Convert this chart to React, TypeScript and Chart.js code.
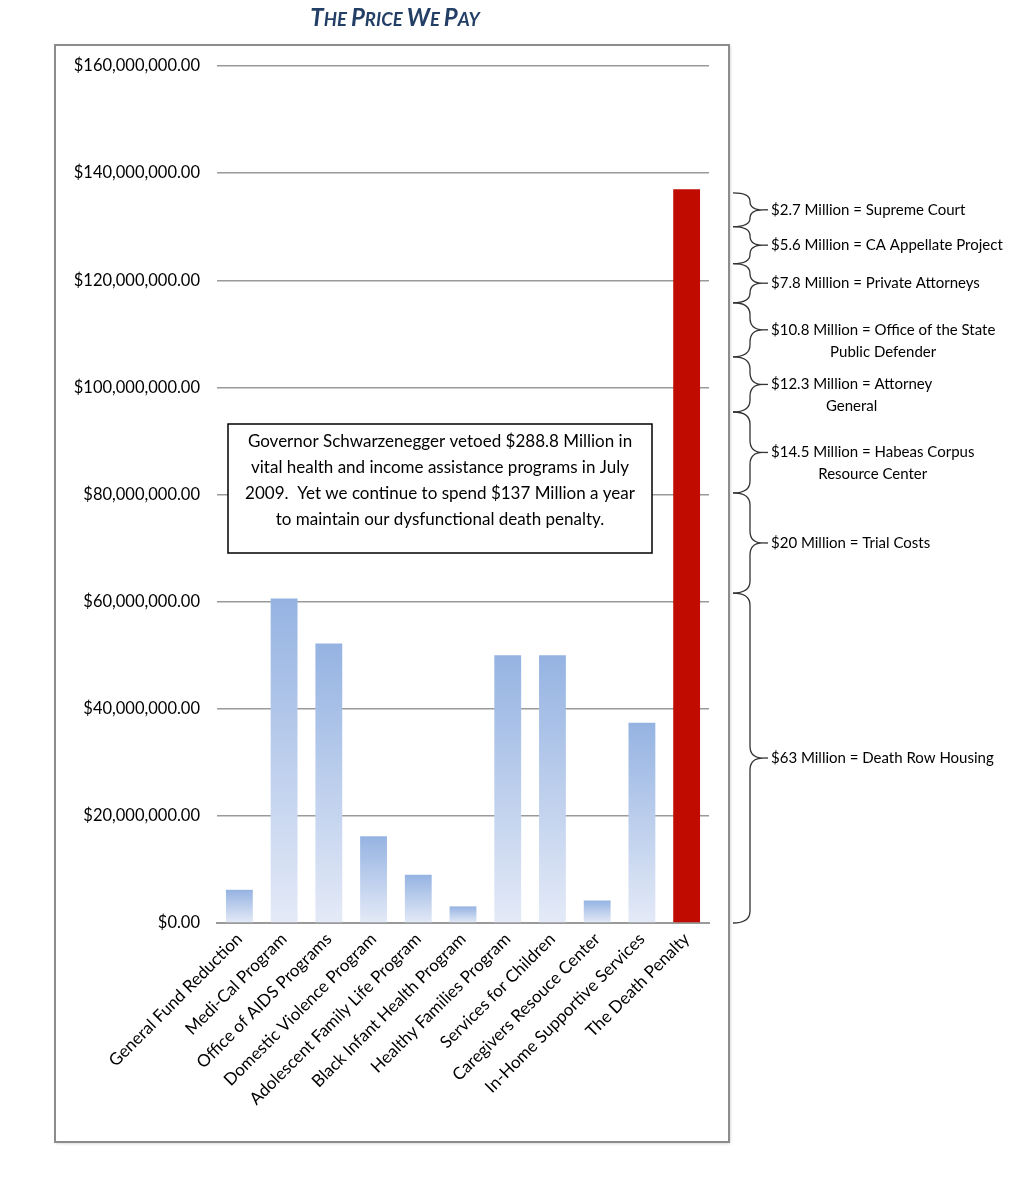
import React, { useEffect, useRef } from "react";
import { Chart, registerables } from "chart.js";

Chart.register(...registerables);

const categories = [
  "General Fund Reduction",
  "Medi-Cal Program",
  "Office of AIDS Programs",
  "Domestic Violence Program",
  "Adolescent Family Life Program",
  "Black Infant Health Program",
  "Healthy Families Program",
  "Services for Children",
  "Caregivers Resouce Center",
  "In-Home Supportive Services",
  "The Death Penalty",
];

const values = [
  6200000, 60600000, 52200000, 16200000, 9000000, 3100000, 50000000, 50000000,
  4200000, 37400000, 137000000,
];

const yMax = 160000000;
const yStep = 20000000;

// brace edges (dollar values along the death-penalty bar)
const braceEdges = [
  0, 61600000, 80300000, 95400000, 105700000, 115800000, 123100000, 130000000,
  136300000,
];

const braceLabels = [
  ["$63 Million = Death Row Housing"],
  ["$20 Million = Trial Costs"],
  ["$14.5 Million = Habeas Corpus", "Resource Center"],
  ["$12.3 Million = Attorney", "General"],
  ["$10.8 Million = Office of the State", "Public Defender"],
  ["$7.8 Million = Private Attorneys"],
  ["$5.6 Million = CA Appellate Project"],
  ["$2.7 Million = Supreme Court"],
];

const noteLines = [
  "Governor Schwarzenegger vetoed $288.8 Million in",
  "vital health and income assistance programs in July",
  "2009.  Yet we continue to spend $137 Million a year",
  "to maintain our dysfunctional death penalty.",
];

const titleWords = ["The", "Price", "We", "Pay"];

const FONT = "Lato, 'Liberation Sans', sans-serif";

function fmtMoney(v: number) {
  return (
    "$" +
    v.toLocaleString("en-US", {
      minimumFractionDigits: 2,
      maximumFractionDigits: 2,
    })
  );
}

function drawBrace(
  ctx: CanvasRenderingContext2D,
  x0: number,
  xs: number,
  xt: number,
  yTop: number,
  yBot: number
) {
  const mid = (yTop + yBot) / 2;
  const r = Math.min(12, (yBot - yTop) / 4);
  ctx.beginPath();
  ctx.moveTo(x0, yTop);
  ctx.quadraticCurveTo(xs, yTop, xs, yTop + r);
  ctx.lineTo(xs, mid - r);
  ctx.quadraticCurveTo(xs, mid, xt, mid);
  ctx.quadraticCurveTo(xs, mid, xs, mid + r);
  ctx.lineTo(xs, yBot - r);
  ctx.quadraticCurveTo(xs, yBot, x0, yBot);
  ctx.stroke();
}

const decorPlugin = {
  id: "decor",
  beforeDraw(chart: any) {
    const ctx: CanvasRenderingContext2D = chart.ctx;
    ctx.save();
    ctx.fillStyle = "#ffffff";
    ctx.fillRect(0, 0, chart.width, chart.height);
    ctx.shadowColor = "rgba(0,0,0,0.25)";
    ctx.shadowBlur = 3;
    ctx.shadowOffsetX = 1;
    ctx.shadowOffsetY = 1;
    ctx.fillRect(55, 45, 674, 1097);
    ctx.shadowColor = "transparent";
    ctx.strokeStyle = "#8c8c8c";
    ctx.lineWidth = 2;
    ctx.strokeRect(55, 45, 674, 1097);
    ctx.restore();
  },
  afterDraw(chart: any) {
    const ctx: CanvasRenderingContext2D = chart.ctx;
    const area = chart.chartArea;
    const y = chart.scales.y;
    ctx.save();

    // Title in small caps
    const big = `italic bold 24px ${FONT}`;
    const small = `italic bold 18.5px ${FONT}`;
    const pieces: { t: string; f: string }[] = [];
    titleWords.forEach((w, i) => {
      pieces.push({ t: w[0].toUpperCase(), f: big });
      pieces.push({ t: w.slice(1).toUpperCase() + (i < titleWords.length - 1 ? " " : ""), f: small });
    });
    let total = 0;
    pieces.forEach((p) => {
      ctx.font = p.f;
      total += ctx.measureText(p.t).width;
    });
    let tx = 395 - total / 2;
    ctx.fillStyle = "#243f66";
    ctx.textBaseline = "alphabetic";
    ctx.textAlign = "left";
    pieces.forEach((p) => {
      ctx.font = p.f;
      ctx.fillText(p.t, tx, 26);
      tx += ctx.measureText(p.t).width;
    });

    // Note box
    const bx = area.left + 11;
    const by = 424;
    const bw = 424;
    const bh = 129;
    ctx.fillStyle = "#ffffff";
    ctx.fillRect(bx, by, bw, bh);
    ctx.strokeStyle = "#000000";
    ctx.lineWidth = 1.5;
    ctx.strokeRect(bx, by, bw, bh);
    ctx.fillStyle = "#000000";
    ctx.font = `17px ${FONT}`;
    ctx.textAlign = "center";
    ctx.textBaseline = "middle";
    noteLines.forEach((l, i) => {
      ctx.fillText(l, bx + bw / 2, by + 18 + i * 26);
    });

    // Braces
    const x0 = area.right + 24;
    const xs = area.right + 41;
    const xt = area.right + 54;
    ctx.strokeStyle = "#333333";
    ctx.lineWidth = 1.3;
    ctx.font = `15px ${FONT}`;
    ctx.fillStyle = "#000000";
    for (let i = 0; i < braceLabels.length; i++) {
      const yBot = y.getPixelForValue(braceEdges[i]);
      const yTop = y.getPixelForValue(braceEdges[i + 1]);
      drawBrace(ctx, x0, xs, xt, yTop, yBot);
      const mid = (yTop + yBot) / 2;
      ctx.beginPath();
      ctx.moveTo(xt, mid);
      ctx.lineTo(xt + 5, mid);
      ctx.stroke();
      const lines = braceLabels[i];
      const w0 = ctx.measureText(lines[0]).width;
      const lx = xt + 8;
      ctx.textBaseline = "middle";
      ctx.textAlign = "left";
      ctx.fillText(lines[0], lx, mid);
      ctx.textAlign = "center";
      for (let k = 1; k < lines.length; k++) {
        ctx.fillText(lines[k], lx + w0 / 2, mid + 22 * k);
      }
    }
    ctx.restore();
  },
};

export default function App() {
  const ref = useRef<HTMLCanvasElement | null>(null);

  useEffect(() => {
    if (!ref.current) return;
    const deathIdx = categories.length - 1;
    const chart = new Chart(ref.current, {
      type: "bar",
      data: {
        labels: categories,
        datasets: [
          {
            data: values,
            backgroundColor: (c: any) => {
              if (c.dataIndex === deathIdx) return "#c00c00";
              const ch = c.chart;
              if (!ch.chartArea) return "#b4c8ea";
              const ys = ch.scales.y;
              const top = ys.getPixelForValue(values[c.dataIndex]);
              const bot = ys.getPixelForValue(0);
              const g = ch.ctx.createLinearGradient(0, top, 0, bot);
              g.addColorStop(0, "#95b3e2");
              g.addColorStop(1, "#e4eaf7");
              return g;
            },
            borderWidth: 0,
            barPercentage: 0.6,
            categoryPercentage: 1,
          },
        ],
      },
      options: {
        responsive: false,
        animation: false,
        devicePixelRatio: 1,
        layout: { padding: { left: 55, right: 315, top: 66, bottom: 77 } },
        plugins: {
          legend: { display: false },
          title: { display: false },
          tooltip: { enabled: false },
        },
        scales: {
          x: {
            grid: { display: false, drawTicks: false },
            border: { color: "#9a9a9a", width: 2 },
            ticks: {
              autoSkip: false,
              maxRotation: 45,
              minRotation: 45,
              color: "#000000",
              padding: 6,
              font: { family: FONT, size: 17 },
            },
            afterFit: (s: any) => {
              s.height = 200;
            },
          },
          y: {
            min: 0,
            max: yMax,
            grid: { color: "#9a9a9a", lineWidth: 1.5, drawTicks: false },
            border: { display: false },
            ticks: {
              stepSize: yStep,
              color: "#000000",
              padding: 17,
              font: { family: FONT, size: 16.5 },
              callback: (v: any) => fmtMoney(Number(v)),
            },
            afterFit: (s: any) => {
              s.width = 162;
            },
          },
        },
      },
      plugins: [decorPlugin],
    });
    return () => chart.destroy();
  }, []);

  return (
    <div style={{ position: "absolute", left: 0, top: 0, width: 1024, height: 1200 }}>
      <canvas ref={ref} width={1024} height={1200} style={{ width: 1024, height: 1200 }} />
    </div>
  );
}
